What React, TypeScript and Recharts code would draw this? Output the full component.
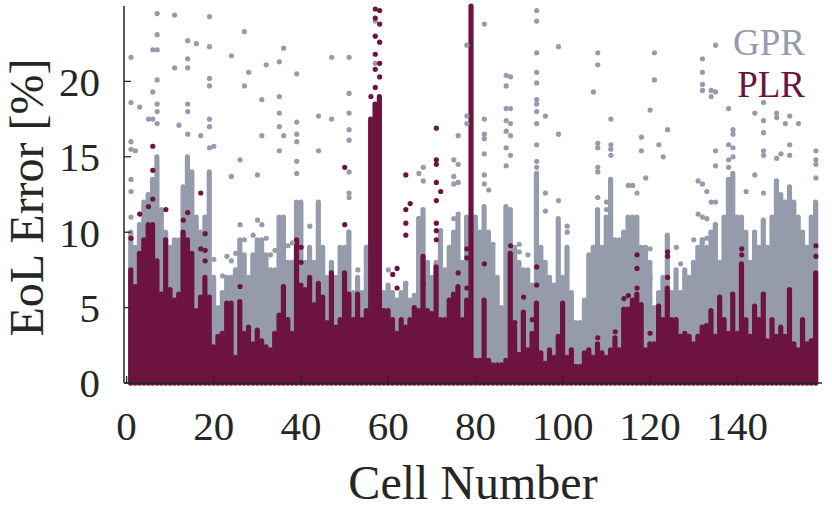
import React from 'react';
import { ComposedChart, Bar, Scatter, XAxis, YAxis, Legend } from 'recharts';

// Dense part of each cell's column, cells 1..158
const gprTop = [
  10, 9, 10.5, 12, 12.5, 13.5, 15, 11.5, 10, 9,
  9.5, 9.5, 13, 15, 14, 11, 10, 11, 14, 7,
  5, 6, 7, 7, 7.5, 9.5, 8.5, 7, 8.5, 9.5,
  9.5, 8.5, 7.5, 7.5, 11, 11, 8, 8, 12, 12,
  8, 9, 8, 12, 9, 7, 8, 7, 9, 9,
  10, 6, 7, 6, 9, 8, 8, 8, 6, 6.5,
  6, 5.5, 6, 6.6, 5.5, 5.8, 10.9, 11.5, 8, 7,
  8, 10, 7.5, 9, 10, 11, 8, 11, 8, 11,
  10, 11.7, 10, 9, 7, 5, 11.7, 11.5, 9, 8,
  7.5, 7.5, 6.5, 13.9, 9, 8, 7, 6.5, 10.9, 7,
  9, 6, 4, 4, 5.5, 8.5, 9, 11.5, 9, 11,
  13.5, 9.5, 9.5, 10, 11, 11, 11, 9, 9, 8,
  5, 6, 7, 9.8, 6, 7.5, 6, 7.5, 7, 8,
  9, 9.5, 9, 10, 10.5, 8, 11, 13.5, 13.9, 11,
  11, 10, 8, 10, 9, 10.8, 9, 11, 13.4, 12.5,
  12, 13, 12, 11, 10, 9, 11, 12,
];

const plrTop = [
  7.5, 6.4, 8.6, 9.5, 10.5, 10.5, 8.1, 5.9, 9.5, 6.2,
  5.5, 5.9, 10, 9.5, 8.6, 4.8, 5.7, 7, 5.7, 2.4,
  3.1, 3.3, 5.3, 5.3, 1.7, 5.4, 3.3, 3.7, 2.6, 3.5,
  2.8, 2.4, 2.2, 3.3, 4.5, 6.4, 4.2, 3.3, 9.5, 6.5,
  6.2, 7, 5.2, 6.6, 5.7, 4, 7.3, 3.7, 4.2, 7.3,
  5.9, 4.2, 5.9, 4.2, 4.8, 17.5, 18.5, 19, 4.8, 4.8,
  4.2, 3.3, 4.2, 3.7, 4.2, 5, 4.8, 8.4, 4.8, 4.6,
  7.7, 4.2, 4.2, 5.5, 5.9, 6.4, 4.2, 5.5, 25, 1.5,
  1.5, 5.5, 1.5, 1.2, 1.2, 1.2, 1.5, 8.6, 3.7, 1.9,
  4.7, 2.2, 3.3, 5.3, 2, 1.3, 2.2, 1.7, 3.1, 5.3,
  1.7, 2.2, 1.1, 1.1, 2, 2.2, 1.7, 2.6, 2, 1.7,
  2.2, 3, 2.2, 4.9, 4.9, 5.5, 5.9, 5.2, 2.2, 2.6,
  2.6, 5.1, 4.2, 6.3, 4.2, 4.2, 3.1, 3.3, 3.1, 2.6,
  3.1, 3.7, 3.8, 4.8, 3.1, 5.7, 4.2, 3.3, 5.9, 3.3,
  7.9, 4.2, 3.1, 5.1, 4.2, 5.9, 2.8, 4.2, 3.1, 3.7,
  3.1, 6.2, 2.6, 2.2, 4.2, 2.6, 2.8, 7.3,
];

// Sparse points above the dense columns: [cell, error %]
const gprOutliers = [
  [1, 21.6], [1, 18.6], [1, 16], [1, 15.5], [1, 13.5], [1, 12.7], [1, 11],
  [2, 15.4], [3, 18.3], [5, 17.5], [6, 22.1], [6, 19.3], [6, 17.5],
  [7, 24.5], [7, 23.1], [7, 22.1], [7, 20.1], [7, 18.5], [7, 18], [7, 17.2],
  [11, 24.4], [11, 20.9], [12, 17.1], [14, 22.7], [14, 21.5], [14, 20.9], [14, 18.5], [14, 18], [14, 16.5],
  [16, 22.5], [17, 16.4], [19, 24.3], [19, 22.3], [19, 20.2], [19, 19.7], [19, 17.5], [19, 17], [19, 15.6], [20, 15.7],
  [20, 8.2], [22, 7.1], [23, 8.4], [24, 8.1], [25, 8.6], [26, 10.5], [27, 9.5], [29, 9.8], [30, 10.8],
  [31, 10.5], [32, 9.6], [33, 8.5], [34, 8.8], [37, 9.1], [38, 9.3],
  [24, 21.7], [24, 13.7], [26, 14.8], [27, 23.3], [27, 19.7], [28, 20.6], [31, 18.8], [31, 16.4], [30, 13.8], [32, 21.1],
  [35, 21.3], [35, 19], [35, 17.9], [35, 17], [35, 15.4], [36, 22.2], [36, 16.4],
  [39, 20.5], [39, 17.3], [39, 16.5], [39, 16], [39, 14.7], [39, 13.9],
  [42, 10.4], [44, 17.7], [44, 15.4], [47, 21.6], [47, 17.5],
  [51, 21.6], [51, 19.2], [51, 17.9], [51, 16.8], [51, 16.1], [51, 14], [51, 12.3], [51, 12.6],
  [53, 7.5], [57, 24], [57, 21.2], [60, 7.5], [64, 6.6], [66, 5.8],
  [67, 13.9], [67, 10.9], [68, 14.3], [68, 13.4], [72, 10.1],
  [75, 14.8], [75, 13.7], [75, 13.2], [75, 10.9], [76, 16.4], [76, 14.5], [76, 13.3], [76, 11.2],
  [78, 22.4], [78, 17.7], [78, 17.2],
  [82, 23.8], [82, 17.5], [82, 16.5], [82, 16.2], [82, 15.2], [82, 13.8], [82, 13.2], [83, 12.8], [84, 9.2],
  [87, 20.4], [88, 20.3], [87, 19.7], [87, 18.2], [88, 18.2], [87, 17.4], [88, 17.2], [87, 16.7], [88, 16.4],
  [87, 15.6], [88, 15.1], [87, 14.4], [90, 9.2], [90, 8.7], [92, 8.5],
  [94, 24.7], [94, 24], [94, 21.9], [94, 20.6], [94, 19.9], [94, 18.8], [94, 18.5], [94, 18], [94, 17.2],
  [94, 15.8], [94, 14.7], [94, 14.3],
  [96, 17.7], [96, 12.6], [96, 11.4], [99, 22.3], [99, 16.5], [99, 12.1], [101, 10.4], [101, 10],
  [107, 19.3], [108, 21.9], [108, 21.1], [108, 15.9], [108, 15.6], [108, 14.3], [108, 14], [108, 12.3],
  [110, 12], [110, 11.5], [111, 17.5], [111, 15.8], [111, 15.5], [111, 15.1],
  [118, 16.3], [118, 15.4], [119, 13.6], [115, 13.1], [116, 13.1], [117, 12.6],
  [120, 18.1], [121, 21.9], [121, 20.1], [122, 15.8], [123, 15], [124, 16.8], [120, 8.9], [120, 7],
  [126, 9], [127, 7.9], [131, 13.4], [132, 13.2], [133, 12.7], [134, 12], [135, 12], [131, 11.2], [132, 11],
  [133, 10.9], [135, 10.5], [132, 9.5], [133, 9.6], [135, 8.9], [135, 7.4], [130, 9.5], [131, 7.8], [129, 6.9],
  [132, 21.5], [132, 20.6], [132, 19.8], [132, 19.4], [134, 19.4], [135, 19.3], [134, 19], [135, 22.4],
  [135, 15.4], [135, 14.4],
  [138, 18.2], [139, 16.8], [139, 16.5], [138, 15.8], [139, 15.6], [138, 14.8], [139, 15], [138, 14.3],
  [142, 12.7], [144, 17.9], [144, 13.8], [146, 18.6], [146, 17.4], [146, 16.6], [146, 15.4], [146, 15.1], [146, 12.6],
  [149, 17.9], [149, 17.6], [151, 17.2], [150, 15.2], [149, 14.9], [152, 17.7], [152, 15.8], [152, 15.1], [154, 17.2],
  [158, 15.4], [158, 14.8], [158, 14.5], [158, 13.6],
];

const plrOutliers = [
  [1, 9.6], [6, 12.2], [6, 14.1], [6, 15.7], [5, 11.7], [3, 11.2], [9, 11.5], [13, 10.8], [14, 11.3],
  [17, 12.6], [17, 8.9], [18, 9.9], [18, 8.8], [18, 8.1], [26, 6.4],
  [40, 8], [40, 9], [50, 14.3], [50, 10.5],
  [57, 24.8], [58, 24.7], [57, 24.2], [58, 23.8], [57, 23], [58, 22.6], [57, 21.8], [58, 21.2],
  [57, 20.8], [58, 20.3], [57, 19.6], [56, 19],
  [61, 7.2], [62, 7.6], [62, 6.3], [64, 13.8], [64, 11.5], [64, 10.6], [64, 9.8], [65, 11.9], [68, 6.6],
  [71, 16.9], [71, 14.8], [71, 14.5], [71, 13.3], [71, 12.1], [71, 10.6], [71, 10.1], [71, 9.5], [72, 12.7],
  [76, 7.3], [78, 8.9], [78, 8.3], [78, 6.3],
  [82, 7.9], [88, 9.1], [89, 4], [91, 5.7], [93, 4.2], [94, 7.7], [94, 6.5], [108, 3], [112, 3.4],
  [114, 5.6], [115, 5.8], [117, 6.3], [117, 7.6], [117, 8.5], [120, 3.3],
  [124, 7], [124, 8.4], [124, 8.7], [141, 8.9], [141, 8.5], [158, 8.4], [158, 9.1],
];

const xTicks = [0, 20, 40, 60, 80, 100, 120, 140];
const yTicks = [0, 5, 10, 15, 20];

const GPR_COLOR = '#959bab';
const PLR_COLOR = '#6c143f';
const INK = '#262626';
const FONT = "'Liberation Serif', 'Times New Roman', serif";
const DOT_R = 2.6;

const columns = gprTop.map((g, i) => ({ cell: i + 1, gpr: g, plr: plrTop[i] }));
const gprPts = gprOutliers.map(([cell, v]) => ({ cell, v }));
const plrPts = plrOutliers.map(([cell, v]) => ({ cell, v }));

const dot = (color: string) => (p: any) => <circle cx={p.cx} cy={p.cy} r={DOT_R} fill={color} />;

// a column of overlapping dots: dot-wide bar from the base to the column top
const column = (color: string) => (p: any) => {
    if (!p.height || p.height <= 0) return <g />;
    const cx = p.x + p.width / 2;
    return (
        <rect x={cx - DOT_R} y={p.y - DOT_R} width={DOT_R * 2} height={p.height + DOT_R * 2}
            rx={DOT_R} ry={DOT_R} fill={color} />
    );
};

const YTick = (props: any) => {
    const { x, y, payload } = props;
    return (
        <g>
            <line x1={x + 24} x2={x + 31} y1={y} y2={y} stroke={INK} strokeWidth={1.3} />
            <text x={x} y={y} dy="0.35em" textAnchor="end" fontFamily={FONT} fontSize={41} fill={INK}>{payload.value}</text>
        </g>
    );
};

const XTick = (props: any) => {
    const { x, y, payload } = props;
    return (
        <g>
            <line x1={x} x2={x} y1={y - 28} y2={y - 35} stroke={INK} strokeWidth={1.3} />
            <text x={x} y={y} dy="0.71em" textAnchor="middle" fontFamily={FONT} fontSize={41} fill={INK}>{payload.value}</text>
        </g>
    );
};

export default function App() {
    return (
        <div style={{ position: 'absolute', left: 0, top: 0, width: 832, height: 508, background: '#fff' }}>
            <ComposedChart width={832} height={508} data={columns} margin={{ top: 6, right: 10, left: 0, bottom: 0 }}>
                <XAxis
                    xAxisId="g" type="number" dataKey="cell" domain={[-0.6, 159.4]} ticks={xTicks}
                    height={125} tickSize={0} tickMargin={28} tick={<XTick />}
                    axisLine={{ stroke: INK, strokeWidth: 1.5 }}
                    label={{
                        value: 'Cell Number',
                        content: (p: any) => (
                            <text x={p.viewBox.x + p.viewBox.width / 2} y={p.viewBox.y + 116} textAnchor="middle"
                                fontFamily={FONT} fontSize={48} fill={INK}>Cell Number</text>
                        ),
                    }}
                />
                <XAxis xAxisId="p" type="number" dataKey="cell" domain={[-0.6, 159.4]} hide />
                <YAxis
                    type="number" domain={[0, 25]} ticks={yTicks} width={124}
                    tickSize={0} tickMargin={24} tick={<YTick />}
                    axisLine={{ stroke: INK, strokeWidth: 1.5 }}
                    label={{
                        value: 'EoL Error [%]',
                        content: (p: any) => {
                            const cy = p.viewBox.y + p.viewBox.height / 2 + 3;
                            return (
                                <text x={43} y={cy} transform={`rotate(-90, 43, ${cy})`} textAnchor="middle"
                                    fontFamily={FONT} fontSize={48} fill={INK}>EoL Error [%]</text>
                            );
                        },
                    }}
                />
                <Legend
                    layout="horizontal" verticalAlign="middle" align="center"
                    wrapperStyle={{ top: 22, left: 685, width: 120, height: 90 }}
                    content={() => (
                        <div style={{ fontFamily: FONT, fontSize: 37, lineHeight: '42px', textAlign: 'right' }}>
                            <div style={{ color: GPR_COLOR }}>GPR</div>
                            <div style={{ color: PLR_COLOR }}>PLR</div>
                        </div>
                    )}
                />
                <Bar xAxisId="g" dataKey="gpr" fill={GPR_COLOR} shape={column(GPR_COLOR)} isAnimationActive={false} />
                <Scatter xAxisId="g" data={gprPts} dataKey="v" shape={dot(GPR_COLOR)} isAnimationActive={false} />
                <Bar xAxisId="p" dataKey="plr" fill={PLR_COLOR} shape={column(PLR_COLOR)} isAnimationActive={false} />
                <Scatter xAxisId="p" data={plrPts} dataKey="v" shape={dot(PLR_COLOR)} isAnimationActive={false} />
            </ComposedChart>
        </div>
    );
}
